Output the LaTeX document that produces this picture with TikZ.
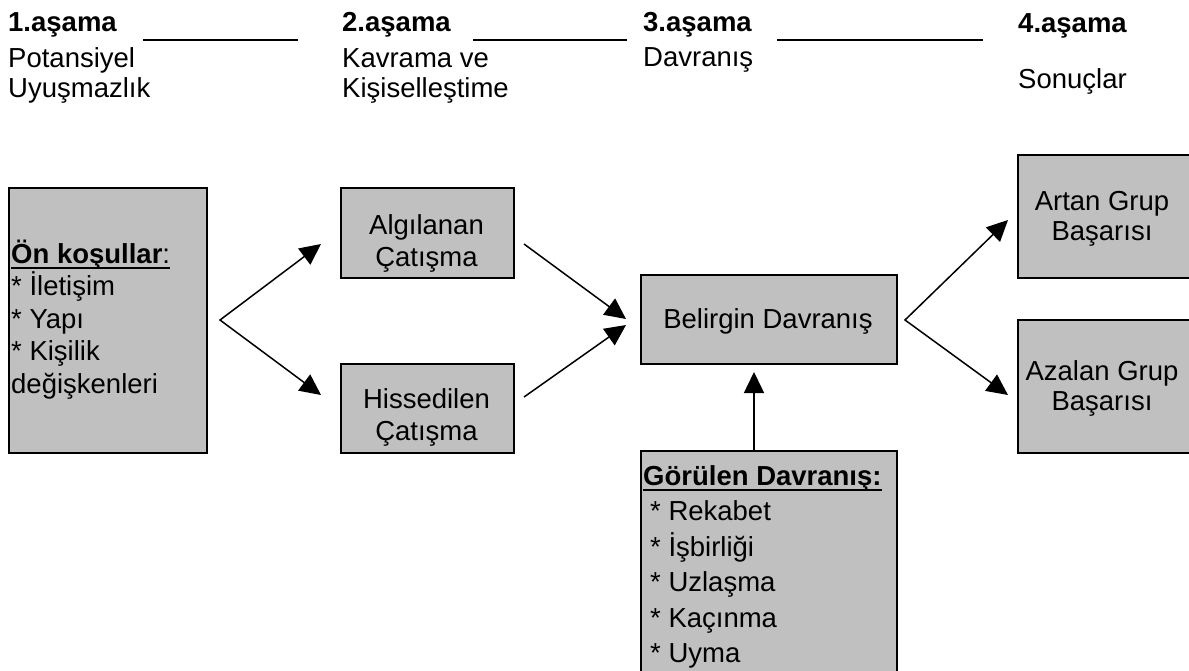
\documentclass[tikz,border=0pt]{standalone}
\usepackage{fontspec}
\setmainfont{Liberation Sans}
\usetikzlibrary{arrows.meta}
\definecolor{boxgray}{HTML}{C0C0C0}
\newcommand\fsa{\fontsize{27.5}{30}\selectfont}
\newcommand\fsb{\fontsize{27.5}{32}\selectfont}
\newcommand\fsc{\fontsize{27.5}{32.5}\selectfont}
\newcommand\fsd{\fontsize{27.5}{35.5}\selectfont}
\newcommand\cstk[1]{\vtop{\halign{\hfil##\hfil\cr#1\crcr}}}
\newcommand\lstk[1]{\vtop{\halign{##\hfil\cr#1\crcr}}}
\newcommand\ulx[1]{\setbox0\hbox{#1}\rlap{\rule[-6pt]{\wd0}{1.6pt}}\box0}
\tikzset{
  box/.style={draw=black, line width=1.6pt, fill=boxgray, inner sep=0pt, anchor=north west},
  txt/.style={inner sep=0pt, text=black},
  arr/.style={-{Triangle[length=21pt,width=20pt]}, line width=1.5pt},
  darr/.style={{Triangle[length=21pt,width=20pt]}-{Triangle[length=21pt,width=20pt]}, line width=1.5pt},
  sep/.style={line width=2pt},
}
\begin{document}
\begin{tikzpicture}[x=1pt,y=-1pt]
\useasboundingbox (0,0) rectangle (1189,670);
% header
\node[txt, anchor=base west, font=\fsa\bfseries] (h1) at (8,31) {1.aşama};
\node[txt, anchor=base west, font=\fsa] (h1b) at (8,67) {\lstk{Potansiyel\cr Uyuşmazlık}};
\node[txt, anchor=base west, font=\fsa\bfseries] (h2) at (342,31) {2.aşama};
\node[txt, anchor=base west, font=\fsa] (h2b) at (342,67) {\lstk{Kavrama ve\cr Kişiselleştime}};
\node[txt, anchor=base west, font=\fsa\bfseries] (h3) at (643,31) {3.aşama};
\node[txt, anchor=base west, font=\fsa] (h3b) at (643,66) {Davranış};
\node[txt, anchor=base west, font=\fsa\bfseries] (h4) at (1018,32) {4.aşama};
\node[txt, anchor=base west, font=\fsa] (h4b) at (1018,88) {Sonuçlar};
\coordinate (l1a) at (143,40); \coordinate (l1b) at (298,40);
\coordinate (l2a) at (473,40); \coordinate (l2b) at (627,40);
\coordinate (l3a) at (777,40); \coordinate (l3b) at (983,40);
\draw[sep] (l1a) -- (l1b);
\draw[sep] (l2a) -- (l2b);
\draw[sep] (l3a) -- (l3b);
% boxes
\node[box, minimum width=198pt, minimum height=265pt] (pre) at (8,187) {};
\node[box, minimum width=173pt, minimum height=90pt] (alg) at (340,187) {};
\node[box, minimum width=173pt, minimum height=89pt] (his) at (340,363) {};
\node[box, minimum width=256pt, minimum height=89pt] (bel) at (640,274) {};
\node[box, minimum width=256pt, minimum height=240pt] (gor) at (640,450) {};
\node[box, minimum width=176pt, minimum height=123pt] (art) at (1017,154) {};
\node[box, minimum width=176pt, minimum height=133pt] (aza) at (1017,319) {};
% box texts
\node[txt, anchor=base west, font=\fsc] (pret) at (11,263)
  {\lstk{\ulx{\bfseries Ön koşullar\mdseries:}\cr * İletişim\cr * Yapı\cr * Kişilik\cr değişkenleri}};
\node[txt, anchor=base, font=\fsb] (algt) at (426.5,234) {\cstk{Algılanan\cr Çatışma}};
\node[txt, anchor=base, font=\fsb] (hist) at (426.5,408) {\cstk{Hissedilen\cr Çatışma}};
\node[txt, anchor=base, font=\fsb] (belt) at (768,328) {Belirgin Davranış};
\node[txt, anchor=base west, font=\fsd] (gort) at (643,485)
  {\lstk{\ulx{\bfseries Görülen Davranış:}\cr \kern7pt* Rekabet\cr \kern7pt* İşbirliği\cr \kern7pt* Uzlaşma\cr \kern7pt* Kaçınma\cr \kern7pt* Uyma}};
\node[txt, anchor=base, font=\fsa] (artt) at (1102,210) {\cstk{Artan Grup\cr Başarısı}};
\node[txt, anchor=base, font=\fsa] (azat) at (1102,380) {\cstk{Azalan Grup\cr Başarısı}};
% connectors
\coordinate (s1) at (220,320);
\coordinate (t1a) at (321,244);
\coordinate (t1b) at (321,395);
\draw[darr] (t1a) -- (s1) -- (t1b);
\coordinate (a2) at (524,244);
\coordinate (h2s) at (524,397);
\coordinate (b2a) at (626,319);
\coordinate (b2b) at (626,325);
\draw[arr] (a2) -- (b2a);
\draw[arr] (h2s) -- (b2b);
\coordinate (u1) at (754,450);
\coordinate (u2) at (754,372);
\draw[arr] (u1) -- (u2);
\coordinate (s3) at (905,320);
\coordinate (t3a) at (1008,220);
\coordinate (t3b) at (1008,395);
\draw[darr] (t3a) -- (s3) -- (t3b);
\end{tikzpicture}
\end{document}
